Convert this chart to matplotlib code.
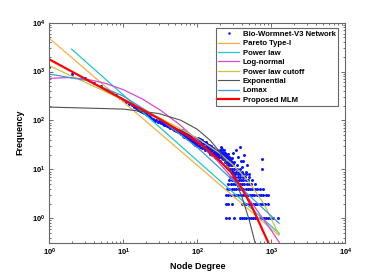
import numpy as np
import matplotlib
matplotlib.use('Agg')
import matplotlib.pyplot as plt
from matplotlib.ticker import LogLocator, FixedLocator, FixedFormatter, NullFormatter

plt.rcParams['font.family'] = ['Liberation Sans', 'DejaVu Sans']
plt.rcParams['mathtext.fontset'] = 'custom'
plt.rcParams['mathtext.rm'] = 'Liberation Sans'
plt.rcParams['mathtext.bf'] = 'Liberation Sans:bold'

#################################################
## Data
#################################################
# degree distribution, dense part (one point per degree)
deg_low = [1, 2, 3, 4, 5, 6, 7, 8, 9, 10, 11, 12, 13, 14, 15, 16, 17, 18, 19, 20,
           21, 22, 23, 24, 25, 26, 27, 28, 29, 30, 31, 32, 33, 34, 35, 36, 37, 38, 39, 40,
           41, 42, 43, 44, 45, 46, 47, 48, 49, 50, 51, 52, 53, 54, 55, 56, 57, 58, 59, 60,
           61, 62, 63, 64, 65, 66, 67, 68, 69, 70, 71, 72, 73, 74, 75, 76, 77, 78, 79, 80,
           81, 82, 83, 84, 85, 86, 87, 88, 89, 90, 91, 92, 93, 94, 95, 96, 97, 98, 99, 100]
freq_low = [1250, 905, 742, 598, 503, 428, 371, 327, 291, 259, 238, 221, 204, 187, 180, 166, 158, 151, 140, 136,
            130, 122, 119, 111, 108, 104, 99, 101, 94, 97, 91, 88, 93, 85, 82, 86, 79, 83, 76, 80,
            74, 77, 71, 75, 69, 72, 66, 70, 64, 68, 62, 67, 60, 65, 58, 63, 57, 61, 55, 59,
            52, 63, 55, 49, 60, 53, 47, 58, 51, 45, 56, 49, 43, 54, 47, 41, 52, 45, 40, 50,
            44, 38, 48, 42, 36, 47, 40, 35, 45, 39, 33, 44, 37, 32, 42, 36, 31, 41, 35, 30]

deg_mid = [102, 104, 106, 108, 110, 112, 114, 116, 118, 120,
           122, 124, 126, 128, 130, 132, 134, 136, 138, 140,
           142, 144, 146, 148, 150, 152, 154, 156, 158, 160,
           162, 164, 166, 168, 170, 172, 174, 176, 178, 180,
           182, 184, 186, 188, 190, 192, 194, 196, 198, 200,
           202, 204, 206, 208, 210, 212, 214, 216, 218, 220,
           222, 224, 226, 228, 230, 232, 234, 236, 238, 240,
           242, 244, 246, 248, 250, 252, 254, 256, 258, 260,
           262, 264, 266, 268, 270, 272, 274, 276, 278, 280,
           282, 284, 286, 288, 290, 292, 294, 296, 298, 300,
           305, 318, 332, 347, 360, 375, 388, 402, 418, 433, 450, 470, 500]
freq_mid = [44, 31, 38, 29, 41, 35, 27, 39, 33, 30,
            36, 28, 34, 25, 37, 30, 26, 33, 24, 29,
            31, 23, 28, 26, 21, 30, 24, 27, 20, 25,
            28, 22, 19, 26, 23, 18, 24, 21, 17, 23,
            20, 25, 17, 22, 19, 16, 21, 18, 24, 15,
            25, 22, 29, 18, 23, 21, 26, 17, 22, 20,
            23, 16, 21, 18, 25, 17, 20, 14, 22, 16,
            18, 21, 14, 17, 20, 13, 18, 16, 21, 14,
            17, 13, 16, 18, 12, 14, 17, 13, 16, 10,
            14, 12, 16, 13, 10, 14, 12, 17, 9, 13,
            22, 14, 25, 12, 18, 29, 15, 11, 15, 20, 9, 12, 8]

# tail: degrees seen on each small-frequency row
tail_rows = {
    1: [247, 268, 312, 380, 405, 430, 462, 495, 530, 566, 605, 650, 695, 745, 800, 850, 905, 950, 1070, 1240],
    2: [243, 262, 290, 400, 428, 460, 492, 527, 565, 605, 648, 695, 742, 790, 820, 905],
    3: [243, 258, 285, 310, 335, 360, 387, 415, 445, 478, 512, 548, 590, 632, 680, 730, 780, 840, 905],
    4: [250, 270, 292, 315, 338, 363, 390, 418, 449, 482, 517, 555, 596, 640, 700, 770],
    5: [262, 282, 303, 326, 350, 376, 404, 433, 465, 500, 536, 600],
    6: [270, 292, 314, 338, 363, 390, 420, 452, 490, 550],
    7: [280, 303, 327, 352, 380, 410, 445, 500],
    8: [300, 325, 350, 378, 410, 450],
    9: [305, 335, 365, 400],
    10: [310, 345, 380, 740],
    16: [740],
}

# fitted curves (x, y)
pareto_x = [1, 1245]
pareto_y = [4786, 0.457]
power_x = [2, 1282]
power_y = [2884, 0.49]
lognorm_x = [1, 1.78, 3.16, 5.62, 10, 17.8, 31.6, 56.2, 100, 178, 316, 562, 1000, 1288]
lognorm_y = [724, 755, 702, 580, 427, 279, 163, 84.9, 39.3, 16.2, 5.94, 1.94, 0.565, 0.316]
cutoff_x = [1, 3.16, 10, 31.6, 100, 200, 316, 501, 794, 1274]
cutoff_y = [1318, 589, 263, 112, 43.7, 21.4, 11.7, 5.5, 1.98, 0.457]
expo_x = [1, 10, 30, 60, 100, 150, 200, 300, 400, 500, 620]
expo_y = [188, 171, 139, 101, 66, 39, 23, 7.9, 2.75, 0.95, 0.27]
lomax_x = [1, 3.16, 10, 31.6, 100, 316, 1274]
lomax_y = [891, 661, 316, 105, 28.2, 5.6, 0.79]
mlm_x = [1, 3.16, 10, 31.6, 79.4, 126, 200, 282, 398, 562, 794, 933]
mlm_y = [1780, 692, 269, 105, 45.7, 28.2, 15.1, 8.9, 4.17, 1.58, 0.50, 0.295]

#################################################
## Plot
#################################################
fig = plt.figure(figsize=(3.82, 2.73), dpi=100)
ax = fig.add_axes([49.3/382, 1-242.7/273, 296/382, 220/273])

deg_tail = []
freq_tail = []
for f, ks in tail_rows.items():
    deg_tail += ks
    freq_tail += [f]*len(ks)
deg_all = deg_low + deg_mid + deg_tail
freq_all = freq_low + freq_mid + freq_tail

ax.plot(deg_all, freq_all, '.', color='#0a14ff', markersize=2.3, label='Bio-Wormnet-V3 Network')
ax.plot(pareto_x, pareto_y, color='#f5b041', lw=0.9, label='Pareto Type-I')
ax.plot(power_x, power_y, color='#1cc8d0', lw=0.9, label='Power law')
ax.plot(lognorm_x, lognorm_y, color='#d24ad6', lw=0.9, label='Log-normal')
ax.plot(cutoff_x, cutoff_y, color='#c9c43a', lw=0.9, label='Power law cutoff')
ax.plot(expo_x, expo_y, color='#505050', lw=0.8, label='Exponential')
ax.plot(lomax_x, lomax_y, color='#3d9ad6', lw=0.9, label='Lomax')
ax.plot(mlm_x, mlm_y, color='#ff0000', lw=1.6, label='Proposed MLM')

ax.set_xscale('log')
ax.set_yscale('log')
ax.set_xlim(1, 1e4)
ax.set_ylim(10**-0.5, 1e4)

ax.xaxis.set_major_locator(FixedLocator([1, 10, 100, 1000, 10000]))
ax.xaxis.set_major_formatter(FixedFormatter([r'$\mathbf{10^{%d}}$' % i for i in range(5)]))
ax.yaxis.set_major_locator(FixedLocator([1, 10, 100, 1000, 10000]))
ax.yaxis.set_major_formatter(FixedFormatter([r'$\mathbf{10^{%d}}$' % i for i in range(5)]))
ax.xaxis.set_minor_locator(LogLocator(base=10, subs=np.arange(2, 10), numticks=20))
ax.yaxis.set_minor_locator(LogLocator(base=10, subs=np.arange(2, 10), numticks=20))
ax.xaxis.set_minor_formatter(NullFormatter())
ax.yaxis.set_minor_formatter(NullFormatter())
ax.tick_params(which='both', direction='in', top=True, right=True, color='#555555', width=0.6)
ax.tick_params(which='major', length=3, labelsize=5.5, pad=3)
ax.tick_params(which='minor', length=1.6)
for s in ax.spines.values():
    s.set_color('#666666')
    s.set_linewidth(0.8)

ax.set_xlabel('Node Degree', fontsize=6.5, fontweight='bold', labelpad=3)
ax.set_ylabel('Frequency', fontsize=6.5, fontweight='bold', labelpad=5)

leg = ax.legend(loc='upper right', bbox_to_anchor=(0.975, 0.975), borderaxespad=0,
                prop={'weight': 'bold', 'size': 5.6}, fancybox=False,
                edgecolor='#666666', framealpha=1, handlelength=2.7, handletextpad=0.4,
                borderpad=0.3, labelspacing=0.25, numpoints=1, markerscale=0.7)
leg.get_frame().set_linewidth(0.8)

fig.savefig('out.png', dpi=100)
